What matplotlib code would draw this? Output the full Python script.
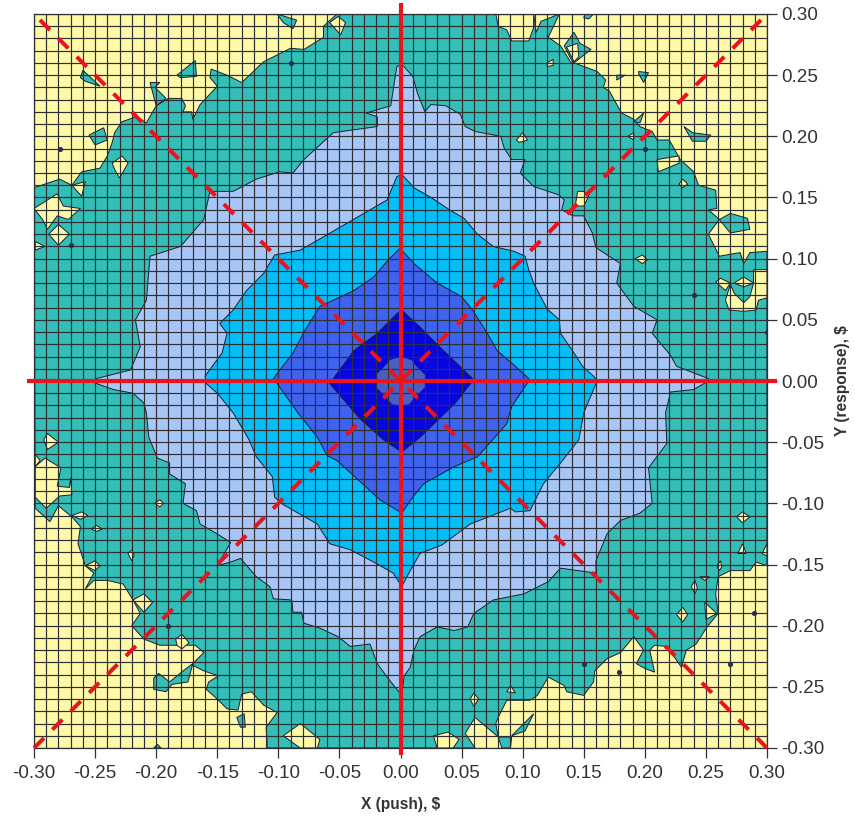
import matplotlib
matplotlib.use('Agg')
import numpy as np
import matplotlib.pyplot as plt

plt.rcParams['font.family'] = ['Liberation Sans', 'DejaVu Sans']

# contour boundaries, in $ (x, y)
teal_outer = [(.130,.300),(.121,.281),(.131,.274),(.139,.261),(.145,.259),(.161,.253),(.168,.246),(.166,.240),(.171,.237),
    (.181,.219),(.191,.214),(.196,.208),(.206,.204),(.210,.197),(.220,.197),(.229,.181),(.240,.171),(.244,.160),(.258,.156),
    (.259,.141),(.252,.140),(.261,.132),(.270,.137),(.284,.133),(.286,.124),(.270,.121),(.261,.132),(.252,.120),(.261,.102),
    (.278,.105),(.281,.096),(.286,.105),(.300,.106),(.300,-.151),(.291,-.148),(.286,-.155),(.270,-.155),(.260,-.160),(.258,-.174),
    (.260,-.190),(.251,-.201),(.242,-.215),(.234,-.220),(.230,-.234),(.218,-.217),(.208,-.216),(.204,-.220),(.208,-.238),
    (.200,-.235),(.193,-.231),(.199,-.220),(.191,-.209),(.180,-.222),(.169,-.227),(.159,-.237),(.158,-.246),(.150,-.257),
    (.136,-.254),(.134,-.249),(.121,-.242),(.112,-.257),(.106,-.261),(.087,-.261),(.080,-.275),(.078,-.280),(.080,-.291),
    (.061,-.275),(.053,-.288),(.061,-.300),(-.109,-.300),(-.110,-.283),(-.101,-.271),(-.112,-.265),(-.122,-.254),(-.130,-.256),
    (-.133,-.269),(-.142,-.268),(-.150,-.260),(-.159,-.252),(-.157,-.246),(-.149,-.241),(-.161,-.237),(-.171,-.232),(-.161,-.222),
    (-.168,-.216),(-.179,-.216),(-.197,-.216),(-.210,-.211),(-.220,-.200),(-.213,-.190),(-.219,-.179),(-.227,-.166),(-.240,-.163),
    (-.251,-.163),(-.258,-.170),(-.251,-.157),(-.258,-.151),(-.264,-.133),(-.262,-.119),(-.269,-.111),(-.280,-.102),(-.287,-.115),
    (-.299,-.104),(-.300,.158),(-.279,.165),(-.269,.160),(-.261,.171),(-.246,.174),(-.240,.184),(-.236,.195),(-.234,.203),
    (-.228,.212),(-.216,.216),(-.208,.211),(-.200,.225),(-.190,.231),(-.179,.231),(-.176,.225),(-.178,.220),(-.171,.220),
    (-.170,.214),(-.164,.226),(-.150,.241),(-.156,.248),(-.155,.255),(-.142,.250),(-.130,.244),(-.112,.261),(-.090,.272),
    (-.079,.271),(-.063,.281),(-.063,.290),(-.052,.300)]

light_level = [(.001,.259),(.010,.249),(.014,.235),(.020,.220),(.025,.226),(.037,.225),(.049,.218),(.053,.208),(.061,.204),
    (.082,.200),(.085,.190),(.091,.181),(.102,.181),(.098,.170),(.109,.159),(.130,.152),(.134,.148),(.132,.140),(.141,.135),
    (.150,.135),(.157,.121),(.160,.109),(.180,.096),(.177,.080),(.191,.061),(.210,.050),(.206,.039),(.221,.021),(.226,.012),
    (.252,.002),(.252,0),(.240,-.007),(.221,-.009),(.217,-.026),(.218,-.051),(.203,-.071),(.206,-.100),(.196,-.108),(.180,-.114),
    (.169,-.125),(.160,-.147),(.160,-.157),(.131,-.153),(.121,-.164),(.101,-.174),(.076,-.179),(.060,-.190),(.055,-.201),
    (.044,-.204),(.030,-.201),(.016,-.209),(.011,-.220),(.008,-.234),(.003,-.241),(.001,-.257),(-.011,-.242),(-.019,-.231),
    (-.025,-.215),(-.041,-.217),(-.051,-.209),(-.066,-.202),(-.079,-.198),(-.081,-.189),(-.088,-.189),(-.089,-.179),(-.104,-.178),
    (-.107,-.168),(-.118,-.160),(-.131,-.145),(-.139,-.148),(-.150,-.151),(-.139,-.132),(-.150,-.125),(-.164,-.117),(-.167,-.106),
    (-.178,-.100),(-.176,-.084),(-.189,-.076),(-.189,-.067),(-.199,-.063),(-.206,-.046),(-.208,-.026),(-.210,-.018),(-.219,-.010),
    (-.235,-.007),(-.249,-.002),(-.249,.002),(-.221,.009),(-.213,.028),(-.217,.050),(-.208,.066),(-.205,.102),(-.180,.110),
    (-.161,.132),(-.156,.155),(-.137,.155),(-.118,.165),(-.099,.171),(-.088,.170),(-.079,.181),(-.055,.203),(-.019,.208),
    (-.019,.216),(-.028,.219),(-.008,.225),(-.003,.257)]

cyan_level = [(.001,.169),(.011,.158),(.025,.150),(.040,.140),(.052,.133),(.063,.120),(.076,.110),(.093,.106),(.102,.102),
    (.105,.091),(.109,.080),(.120,.059),(.130,.050),(.131,.039),(.142,.023),(.149,.012),(.158,.004),(.161,0),(.150,-.026),
    (.146,-.048),(.131,-.067),(.117,-.084),(.106,-.106),(.094,-.107),(.090,-.104),(.057,-.117),(.034,-.134),(.016,-.141),
    (.008,-.155),(.001,-.168),(-.006,-.157),(-.022,-.148),(-.041,-.138),(-.058,-.133),(-.068,-.117),(-.096,-.101),(-.103,-.095),
    (-.105,-.078),(-.118,-.062),(-.124,-.048),(-.137,-.026),(-.150,-.010),(-.159,-.002),(-.160,.004),(-.146,.023),(-.142,.039),
    (-.148,.047),(-.137,.058),(-.126,.074),(-.112,.088),(-.103,.103),(-.082,.107),(-.068,.115),(-.049,.126),(-.030,.137),
    (-.011,.148),(-.003,.167)]

royal_level = [(.001,.107),(.011,.096),(.030,.080),(.050,.069),(.059,.058),(.071,.039),(.079,.025),(.094,.012),(.105,.002),
    (.105,0),(.091,-.021),(.087,-.035),(.063,-.062),(.044,-.070),(.019,-.084),(.010,-.095),(.001,-.108),(-.017,-.097),
    (-.030,-.085),(-.052,-.065),(-.060,-.061),(-.068,-.046),(-.084,-.026),(-.101,-.002),(-.104,.002),(-.088,.023),(-.079,.040),
    (-.066,.061),(-.038,.074),(-.022,.085),(-.010,.099),(0,.109)]

dark_level = [(.001,.058),(.016,.044),(.035,.025),(.059,.002),(.059,0),(.045,-.018),(.016,-.046),(.001,-.058),(-.014,-.048),
    (-.033,-.031),(-.058,-.002),(-.038,.025),(-.019,.039),(-.003,.055)]

center_level = [(0,.020),(.009,.017),(.012,.013),(.020,.005),(.020,-.005),(.012,-.013),(.007,-.019),(0,-.020),(-.007,-.019),
    (-.012,-.013),(-.020,-.005),(-.020,.005),(-.012,.013),(-.009,.017)]

# teal patches lying in the yellow zone
teal_islands = [
    [(.134,.274),(.142,.285),(.147,.276),(.156,.271),(.147,.264),(.142,.260),(.139,.264)],
    [(.177,.250),(.184,.250),(.177,.246)],
    [(.195,.253),(.203,.252),(.199,.244),(.195,.251)],
    [(.232,.208),(.239,.203),(.254,.201),(.250,.196),(.239,.196)],
    [(.191,.212),(.199,.219),(.196,.211)],
    [(.151,.300),(.158,.300),(.154,.296),(.150,.297)],
    [(-.101,.300),(-.085,.295),(-.088,.288),(-.096,.293)],
    [(-.183,.250),(-.168,.262),(-.167,.249),(-.180,.248)],
    [(-.262,.248),(-.260,.254),(-.246,.241),(-.258,.245)],
    [(-.255,.201),(-.243,.207),(-.240,.197),(-.250,.193)],
    [(-.205,.244),(-.197,.244),(-.201,.240),(-.192,.231),(-.200,.225)],
    [(-.202,-.243),(-.198,-.239),(-.189,-.246),(-.178,-.237),(-.170,-.231),(-.174,-.246),(-.187,-.248),(-.192,-.254),(-.202,-.252)],
    [(-.134,-.275),(-.128,-.272),(-.127,-.283),(-.131,-.283)],
    [(-.202,-.300),(-.199,-.297),(-.196,-.300)],
    [(.080,-.291),(.091,-.291),(.090,-.300),(.083,-.300)],
    [(.091,-.290),(.109,-.272),(.102,-.286)],
]

# yellow patches lying in the teal zone
yellow_islands = [
    [(-.300,.141),(-.281,.153),(-.276,.143),(-.262,.141),(-.272,.132),(-.281,.135),(-.289,.124),(-.293,.132)],
    [(-.288,.120),(-.280,.128),(-.271,.120),(-.280,.111)],
    [(-.299,.114),(-.291,.110),(-.299,.107)],
    [(-.236,.178),(-.228,.184),(-.223,.178),(-.230,.166),(-.234,.173)],
    [(-.269,.160),(-.258,.163),(-.261,.151)],
    [(-.058,.293),(-.051,.298),(-.045,.293),(-.049,.283)],
    [(.078,.300),(.109,.300),(.109,.289),(.105,.278),(.091,.278),(.087,.287),(.080,.290)],
    [(.109,.300),(.130,.300),(.115,.294),(.111,.285)],
    [(.136,.273),(.145,.276),(.146,.265),(.142,.261)],
    [(.120,.260),(.125,.263),(.125,.258),(.120,.257)],
    [(.095,.197),(.100,.203),(.104,.197),(.097,.195)],
    [(.186,.200),(.191,.203),(.191,.197)],
    [(.210,.181),(.228,.184),(.228,.178),(.211,.171)],
    [(.228,.161),(.231,.165),(.235,.161),(.231,.158)],
    [(.145,.155),(.150,.155),(.154,.151),(.150,.143),(.143,.143)],
    [(.192,.100),(.198,.103),(.202,.099),(.198,.096)],
    [(.258,.081),(.262,.084),(.270,.080),(.266,.074)],
    [(.273,.080),(.281,.085),(.289,.080),(.281,.077)],
    [(.289,.091),(.300,.091),(.300,.068),(.293,.066),(.291,.058),(.281,.057),(.269,.058),(.266,.066),(.270,.079),(.273,.072),(.281,.064),(.286,.069),(.289,.080)],
    [(-.292,-.048),(-.289,-.043),(-.280,-.050),(-.289,-.056)],
    [(-.299,-.060),(-.295,-.065),(-.299,-.070)],
    [(-.299,-.070),(-.291,-.063),(-.278,-.071),(-.281,-.086),(-.271,-.087),(-.270,-.079),(-.269,-.093),(-.279,-.094),(-.290,-.104),(-.299,-.095)],
    [(-.269,-.110),(-.261,-.107),(-.256,-.110),(-.262,-.113)],
    [(-.253,-.121),(-.249,-.118),(-.244,-.121),(-.249,-.123)],
    [(-.223,-.141),(-.220,-.138),(-.218,-.142),(-.220,-.147)],
    [(-.258,-.151),(-.250,-.147),(-.246,-.151),(-.250,-.155)],
    [(-.201,-.100),(-.197,-.097),(-.194,-.100),(-.197,-.103)],
    [(-.219,-.179),(-.210,-.174),(-.203,-.181),(-.210,-.189)],
    [(-.184,-.211),(-.179,-.207),(-.173,-.214),(-.179,-.219),(-.183,-.216)],
    [(-.096,-.290),(-.082,-.280),(-.066,-.293),(-.068,-.300),(-.082,-.300)],
    [(.275,-.111),(.280,-.107),(.286,-.111),(.280,-.116)],
    [(.276,-.141),(.280,-.133),(.283,-.141)],
    [(.296,-.141),(.300,-.133),(.300,-.143)],
    [(.259,-.151),(.262,-.147),(.263,-.152),(.261,-.155)],
    [(.238,-.168),(.241,-.163),(.243,-.169),(.241,-.174)],
    [(.245,-.160),(.253,-.160),(.249,-.163)],
    [(.226,-.191),(.231,-.185),(.235,-.191),(.231,-.197)],
    [(.249,-.181),(.259,-.190),(.250,-.195)],
    [(.057,-.260),(.060,-.255),(.064,-.260),(.060,-.266)],
    [(.087,-.254),(.090,-.249),(.094,-.255)],
    [(.027,-.290),(.039,-.287),(.048,-.293),(.043,-.300),(.030,-.300)],
]

# tiny closed contours, too small to trace
dot_x = [-.190, -.279, -.090, .200, .240, .300, .150, -.270, .179, .270, .289]
dot_y = [-.200, .190, .260, .190, .070, .040, -.231, .111, -.238, -.231, -.190]

major_ticks = [-.30, -.25, -.20, -.15, -.10, -.05, 0, .05, .10, .15, .20, .25, .30]
minor_ticks = [i / 100 for i in range(-30, 31)]
tick_labels = ['-0.30', '-0.25', '-0.20', '-0.15', '-0.10', '-0.05', '0.00', '0.05', '0.10', '0.15', '0.20', '0.25', '0.30']

YELLOW = '#FFF9A8'
TEAL = '#33BFB8'
LIGHT = '#A8C6F5'
CYAN = '#05BEF8'
ROYAL = '#3E63F0'
DARK = '#0606E2'
CENTER = '#4A5FBE'
EDGE = '#1c1c2c'
RED = '#E8141E'
TEXT = '#333333'


def fill_level(ax, pts, color, edge=EDGE, z=1):
    xs, ys = zip(*pts)
    ax.fill(xs, ys, facecolor=color, edgecolor=edge, linewidth=0.7, zorder=z, joinstyle='miter')


fig = plt.figure(figsize=(8.55, 8.18), dpi=100)
ax = fig.add_axes([34 / 855, 70 / 818, 733 / 855, 734 / 818])
ax.set_facecolor(YELLOW)

fill_level(ax, teal_outer, TEAL)
for isl in teal_islands:
    fill_level(ax, isl, TEAL)
for isl in yellow_islands:
    fill_level(ax, isl, YELLOW)
ax.scatter(dot_x, dot_y, s=14, color='#2a3060', zorder=1.2, linewidths=0)

fill_level(ax, light_level, LIGHT, z=1.3)
fill_level(ax, cyan_level, CYAN, z=1.4)
fill_level(ax, royal_level, ROYAL, z=1.5)
fill_level(ax, dark_level, DARK, z=1.6)
fill_level(ax, center_level, CENTER, edge='none', z=1.7)

ax.set_xlim(-.30, .30)
ax.set_ylim(-.30, .30)

ax.set_xticks(major_ticks)
ax.set_xticklabels(tick_labels)
ax.set_yticks(major_ticks)
ax.set_yticklabels(tick_labels, ha='left')
ax.set_xticks(minor_ticks, minor=True)
ax.set_yticks(minor_ticks, minor=True)
ax.yaxis.tick_right()
ax.yaxis.set_label_position('right')

ax.grid(which='both', color='#2e2e33', linewidth=0.85)
ax.set_axisbelow(False)
ax.tick_params(which='minor', length=0)
ax.tick_params(which='major', length=7, width=0.9, color='#333333', labelsize=13.6, labelcolor=TEXT, pad=3)
ax.tick_params(axis='x', pad=5)
for s in ax.spines.values():
    s.set_color('#2e2e33')
    s.set_linewidth(0.9)

# red reference cross goes a little past the frame
ax.plot([-.306, .308], [0, 0], color=RED, lw=3.0, clip_on=False, zorder=6, solid_capstyle='butt')
ax.plot([0, 0], [-.306, .309], color=RED, lw=3.0, clip_on=False, zorder=6, solid_capstyle='butt')
ax.plot([-.30, .30], [-.30, .30], color=RED, lw=2.9, ls=(0, (3.5, 2.96)), zorder=5, dash_capstyle='butt', clip_on=False)
ax.plot([.30, -.30], [-.30, .30], color=RED, lw=2.9, ls=(0, (3.5, 2.96)), zorder=5, dash_capstyle='butt', clip_on=False)

fig.text(401 / 855, 1 - 805 / 818, 'X (push), $', ha='center', va='center', fontsize=11.2, fontweight='bold', color=TEXT)
fig.text(842 / 855, 1 - 381 / 818, 'Y (response), $', ha='center', va='center', rotation=90, fontsize=11.2, fontweight='bold', color=TEXT)

fig.savefig('out.png', dpi=100)
